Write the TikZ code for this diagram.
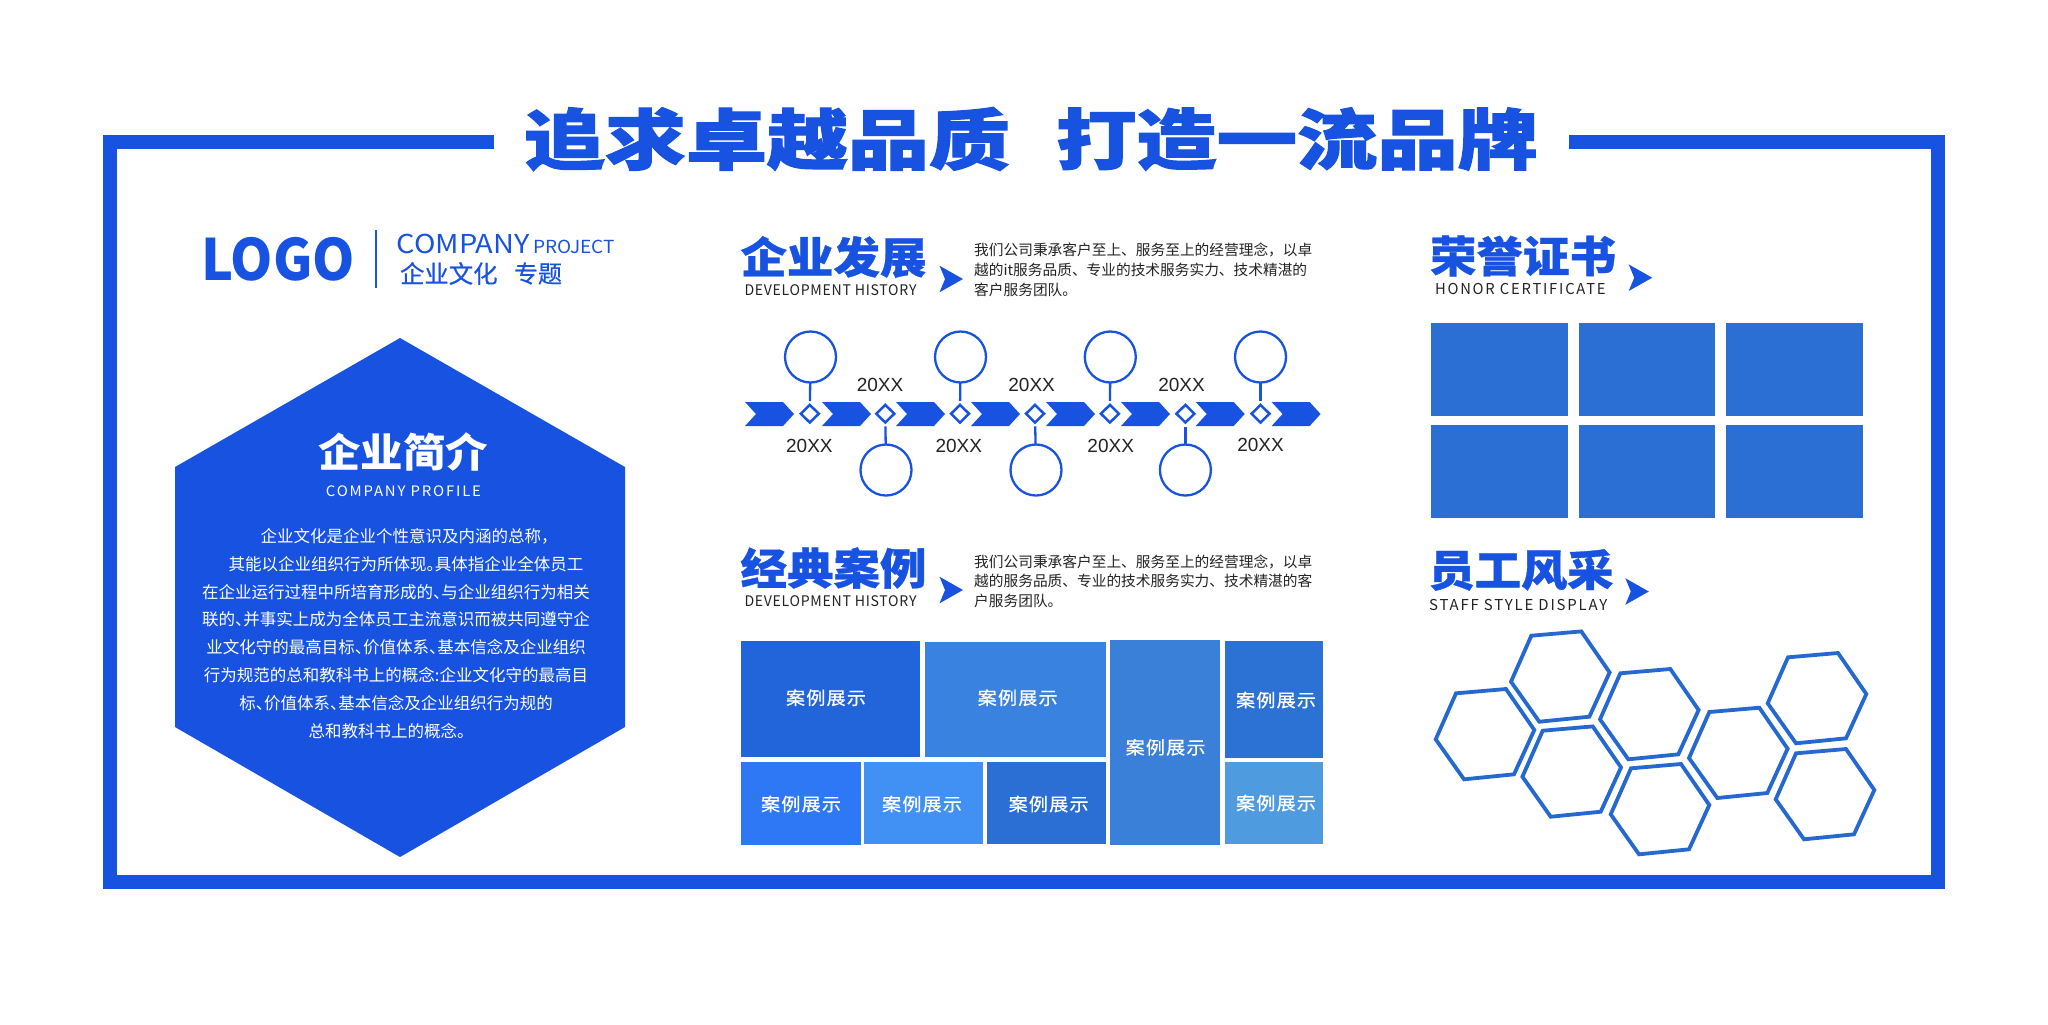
\documentclass[tikz,border=0pt]{standalone}
\usepackage{fontspec}
\usetikzlibrary{shapes.geometric}
\setmainfont{Noto Sans CJK SC}
\newfontfamily\titlefont[BoldFeatures={FakeBold=1.6}]{Noto Sans CJK SC}
\newfontfamily\heavyfont[BoldFeatures={FakeBold=0.8}]{Noto Sans CJK SC}
\newfontfamily\boxfont[FakeBold=0.5]{Noto Sans CJK SC}
\newfontfamily\spacedfont[LetterSpace=12]{Noto Sans CJK SC}
\newfontfamily\looserfont[LetterSpace=5]{Noto Sans CJK SC}
\newfontfamily\numfont{Liberation Sans}
\definecolor{brandblue}{HTML}{1753E0}
\definecolor{tileblue}{HTML}{2B6FD5}
\definecolor{hexblue}{HTML}{2468D0}
\definecolor{inkgrey}{HTML}{222222}
\newcommand\fitw[2]{\resizebox{#1}{\height}{#2}}
\newcommand\dun{、\kern-.5em}
\newcommand\ju{。\kern-.5em}
\newcommand\notcharrow[2]{\fill[brandblue] (#1,#2-13.3) -- (#1+23.5,#2) -- (#1,#2+13.3) -- (#1+5.5,#2) -- cycle;}
\tikzset{
  every node/.style={inner sep=0pt,outer sep=0pt},
  heading/.style={text=brandblue,font=\heavyfont\bfseries\fontsize{21.5}{24}\selectfont},
  subhead/.style={text=inkgrey,font=\looserfont\fontsize{7.3}{9}\selectfont},
  desc/.style={anchor=west,text=inkgrey,font=\fontsize{7.35}{9}\selectfont},
  bodyline/.style={text=white,font=\fontsize{8.25}{10}\selectfont},
  year/.style={text=inkgrey,font=\numfont\fontsize{9.5}{11}\selectfont},
  stone/.style={shape=diamond,draw=brandblue,line width=1.25pt,fill=white,minimum width=9pt,minimum height=8.8pt},
  medal/.style={circle,draw=brandblue,line width=1.15pt,minimum size=25.5pt},
  stem/.style={draw=brandblue,line width=1.15pt,shorten >=2pt},
  hexline/.style={draw=hexblue,line width=1.9pt,line join=miter},
  caselabel/.style={text=white,font=\boxfont\fontsize{9}{11}\selectfont}
}
\begin{document}
\begin{tikzpicture}[x=0.5pt,y=-0.5pt]
  \useasboundingbox (0,0) rectangle (2048,1024);

  % frame and title
  \draw[brandblue,line width=7pt] (494,142) -- (109.5,142) -- (109.5,882) -- (1937.5,882) -- (1937.5,142) -- (1569,142);
  \node[text=brandblue,font=\titlefont\bfseries\fontsize{33}{36}\selectfont] (title1) at (767,139) {\fitw{243pt}{追求卓越品质}};
  \node[text=brandblue,font=\titlefont\bfseries\fontsize{33}{36}\selectfont] (title2) at (1297,139) {\fitw{241pt}{打造一流品牌}};

  % logo
  \node[anchor=base west,text=brandblue,font=\bfseries\fontsize{28.5}{30}\selectfont] (logo) at (201,280) {\fitw{77pt}{LOGO}};
  \fill[brandblue] (374.5,230) rectangle (377,288);
  \node[anchor=base west,text=brandblue,font=\fontsize{13}{15}\selectfont] (company) at (396.5,253) {\fitw{66.5pt}{COMPANY}};
  \node[anchor=base west,text=brandblue,font=\fontsize{9}{11}\selectfont] (project) at (533,253) {\fitw{41pt}{PROJECT}};
  \node[anchor=west,text=brandblue,font=\boxfont\fontsize{12.2}{14}\selectfont] (culture) at (400,273.5) {企业文化};
  \node[anchor=west,text=brandblue,font=\boxfont\fontsize{12}{14}\selectfont] (topic) at (514,273.5) {专题};

  % profile hexagon
  \fill[brandblue] (400,338) -- (625,467) -- (625,727) -- (400,857) -- (175,727) -- (175,467) -- cycle;
  \node[text=white,font=\bfseries\fontsize{20}{24}\selectfont] (profile) at (403,452) {\fitw{85pt}{企业简介}};
  \node[text=white,font=\spacedfont\fontsize{7.2}{9}\selectfont] (profileen) at (403.5,491) {\fitw{77.5pt}{COMPANY PROFILE}};
  \foreach \i/\x/\y/\txt in {
    1/409/536.7/企业文化是企业个性意识及内涵的总称，,
    2/406/564/其能以企业组织行为所体现\ju 具体指企业全体员工,
    3/396/591.7/在企业运行过程中所培育形成的\dun 与企业组织行为相关,
    4/396/619.3/联的\dun 并事实上成为全体员工主流意识而被共同遵守企,
    5/396/647.3/业文化守的最高目标\dun 价值体系\dun 基本信念及企业组织,
    6/396/675.3/行为规范的总和教科书上的概念:企业文化守的最高目,
    7/396/702.7/标\dun 价值体系\dun 基本信念及企业组织行为规的,
    8/391/730.7/总和教科书上的概念。}
    \node[bodyline] (line\i) at (\x,\y) {\txt};

  % development block
  \node[heading] (devhead) at (833.5,257) {\fitw{93pt}{企业发展}};
  \node[subhead] (deven) at (830.5,290.5) {\fitw{86pt}{DEVELOPMENT HISTORY}};
  \notcharrow{939.5}{279}
  \node[desc] (dev1) at (974.2,250) {我们公司秉承客户至上、服务至上的经营理念，以卓};
  \node[desc] (dev2) at (974.2,270) {越的it服务品质、专业的技术服务实力、技术精湛的};
  \node[desc] (dev3) at (974.2,290) {客户服务团队。};

  % timeline
  \foreach \x in {745,822,896,971,1046,1121,1195.7,1271.6}
    \fill[brandblue] (\x,402) -- (\x+38,402) -- (\x+49,414) -- (\x+38,426) -- (\x,426) -- (\x+11,414) -- cycle;
  \foreach \i/\x in {1/809.8,2/885.3,3/960,4/1035,5/1109.9,6/1185.4,7/1260.5}
    \node[stone] (d\i) at (\x,413.7) {};
  \node[medal] (c1) at (810.5,357) {};
  \node[medal] (c2) at (886,470) {};
  \node[medal] (c3) at (960.5,357) {};
  \node[medal] (c4) at (1036,470) {};
  \node[medal] (c5) at (1110.3,357) {};
  \node[medal] (c6) at (1185.4,470) {};
  \node[medal] (c7) at (1260.5,357) {};
  \foreach \from/\to in {c1/d1,c2/d2,c3/d3,c4/d4,c5/d5,c6/d6,c7/d7}
    \draw[stem] (\from) -- (\to);
  \foreach \i/\x/\y in {1/809.4/446.3,2/880/385,3/958.8/446.3,4/1031.6/385,5/1110.7/446.3,6/1181.5/385,7/1260.5/445.3}
    \node[year] (y\i) at (\x,\y) {20XX};

  % cases block
  \node[heading] (casehead) at (833.5,568) {\fitw{93pt}{经典案例}};
  \node[subhead] (caseen) at (830.5,601.5) {\fitw{86pt}{DEVELOPMENT HISTORY}};
  \notcharrow{939.5}{590}
  \node[desc] (case1) at (974.2,561.7) {我们公司秉承客户至上、服务至上的经营理念，以卓};
  \node[desc] (case2) at (974.2,581.3) {越的服务品质、专业的技术服务实力、技术精湛的客};
  \node[desc] (case3) at (974.2,601) {户服务团队。};
  \foreach \i/\xa/\ya/\xb/\yb/\col/\tx/\ty in {
    1/740.6/641/919.7/757/2265DB/826/697.7,
    2/925/642/1105.5/757/3A82E0/1017.7/697.7,
    3/1109.5/640.3/1220/845/3A7FD8/1165.6/747.3,
    4/1224.5/641/1323/758.3/2C71D4/1276/700,
    5/1224.5/761.7/1323/844/4F9BDF/1276/803,
    6/741/761.7/861/845/2F78F5/801/804,
    7/863.5/762.3/982.6/844/4191F4/922/804,
    8/986.5/762.3/1106/844/2B6ED4/1048.6/804}{
    \definecolor{tilecol}{HTML}{\col}
    \fill[tilecol] (\xa,\ya) rectangle (\xb,\yb);
    \node[caselabel] (show\i) at (\tx,\ty) {\fitw{40pt}{\addfontfeature{LetterSpace=6}案例展示}};
  }

  % honor block
  \node[heading] (honorhead) at (1523,256) {\fitw{93pt}{荣誉证书}};
  \node[subhead,font=\spacedfont\fontsize{7.5}{9}\selectfont] (honoren) at (1520.3,289) {\fitw{85.3pt}{HONOR CERTIFICATE}};
  \notcharrow{1628.7}{277.7}
  \foreach \xa/\xb in {1431/1567.7,1579/1715,1726/1862.7}
    \foreach \ya/\yb in {323.3/415.7,425.3/517.7}
      \fill[tileblue] (\xa,\ya) rectangle (\xb,\yb);

  % staff block
  \node[heading] (staffhead) at (1521,570) {\fitw{92.5pt}{员工风采}};
  \node[subhead,font=\spacedfont\fontsize{7.5}{9}\selectfont] (staffen) at (1518.2,605) {\fitw{89pt}{STAFF STYLE DISPLAY}};
  \notcharrow{1625.3}{591.5}
  \foreach \x/\y in {1485/734.3,1560.3/676.7,1649.3/714.3,1571.7/771.7,1660/809.3,1738.3/753,1817/698.3,1825/794.3}
    \draw[hexline] (\x-29,\y-41) -- (\x+21,\y-45.3) -- (\x+49.3,\y-4.3) -- (\x+29,\y+40) -- (\x-21,\y+45) -- (\x-49.3,\y+5) -- cycle;

\end{tikzpicture}
\end{document}
